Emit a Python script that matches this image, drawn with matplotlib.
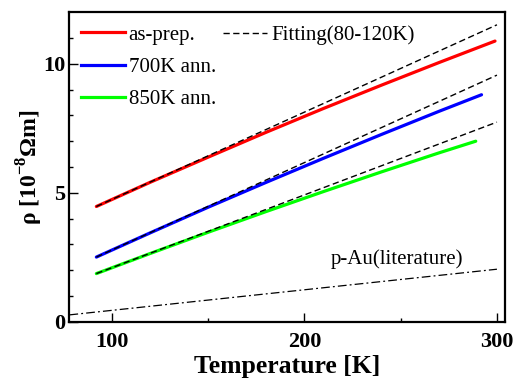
import matplotlib
matplotlib.use("Agg")
from matplotlib import pyplot as plt
from matplotlib.lines import Line2D

plt.rcParams['font.family'] = ['Liberation Serif', 'DejaVu Serif']
plt.rcParams['mathtext.fontset'] = 'custom'
plt.rcParams['mathtext.rm'] = 'Liberation Serif'
plt.rcParams['mathtext.bf'] = 'Liberation Serif:bold'

# measured resistivity curves (T in K, rho in 1e-8 Ohm m)
t_asprep = [92, 120, 150, 180, 210, 240, 270, 299]
rho_asprep = [4.47, 5.41, 6.38, 7.34, 8.27, 9.17, 10.05, 10.88]

t_700 = [92, 120, 150, 180, 210, 240, 270, 292]
rho_700 = [2.51, 3.45, 4.44, 5.40, 6.34, 7.26, 8.16, 8.80]

t_850 = [92, 120, 150, 180, 210, 240, 270, 289]
rho_850 = [1.87, 2.65, 3.47, 4.27, 5.05, 5.81, 6.55, 7.00]

# linear fits (80-120 K) extrapolated
t_fit = [92, 300]
fit_asprep = [4.47, 11.51]
fit_700 = [2.51, 9.56]
fit_850 = [1.87, 7.74]

# literature gold
t_au = [78, 300]
rho_au = [0.27, 2.04]

fig = plt.figure(figsize=(5.15, 3.8), dpi=100)
ax = fig.add_axes([0.134, 0.153, 0.847, 0.815])

lw = 2.3
ax.plot(t_asprep, rho_asprep, color='#ff0000', lw=lw, solid_capstyle='round')
ax.plot(t_700, rho_700, color='#0000ff', lw=lw, solid_capstyle='round')
ax.plot(t_850, rho_850, color='#00ff00', lw=lw, solid_capstyle='round')
for f in (fit_asprep, fit_700, fit_850):
    ax.plot(t_fit, f, color='black', lw=1.0, dashes=(4.5, 2.5))
ax.plot(t_au, rho_au, color='black', lw=0.9, dashes=(7, 2.5, 1.5, 2.5))

ax.text(213.6, 2.42, 'p-Au(literature)', fontsize=15, ha='left', va='center')

ax.set_xlim(77.8, 304.3)
ax.set_ylim(0, 12)
ax.set_xticks([100, 200, 300])
ax.set_xticks([150, 250], minor=True)
ax.set_yticks([0, 5, 10])
ax.set_yticks([1, 2, 3, 4, 6, 7, 8, 9, 11], minor=True)
ax.tick_params(which='both', direction='in', top=False, right=False, width=1)
ax.tick_params(which='major', length=6.5, labelsize=16)
ax.tick_params(axis='x', which='major', pad=7)
ax.tick_params(axis='y', which='major', pad=2.5)
ax.tick_params(which='minor', length=3)
for lab in ax.get_xticklabels() + ax.get_yticklabels():
    lab.set_fontweight('bold')
for s in ax.spines.values():
    s.set_linewidth(1.6)

ax.set_xlabel('Temperature [K]', fontsize=18.5, fontweight='bold', labelpad=2.5)
ax.set_ylabel(r'ρ [10$^{\mathbf{-8}}$Ωm]', fontsize=17, fontweight='bold', labelpad=-1)

h1 = [Line2D([], [], color=c, lw=lw) for c in ('#ff0000', '#0000ff', '#00ff00')]
leg1 = ax.legend(h1, ['as-prep.', '700K ann.', '850K ann.'], loc='upper left',
                 bbox_to_anchor=(0.027, 0.958), frameon=False, fontsize=15,
                 handlelength=2.1, handletextpad=0.2, labelspacing=0.6,
                 borderpad=0, borderaxespad=0)
ax.add_artist(leg1)
h2 = [Line2D([], [], color='black', lw=1.0, dashes=(4.5, 2.5))]
ax.legend(h2, ['Fitting(80-120K)'], loc='upper left',
          bbox_to_anchor=(0.353, 0.958), frameon=False, fontsize=15,
          handlelength=2.1, handletextpad=0.2, borderpad=0, borderaxespad=0)

fig.savefig('out.png', dpi=100)
